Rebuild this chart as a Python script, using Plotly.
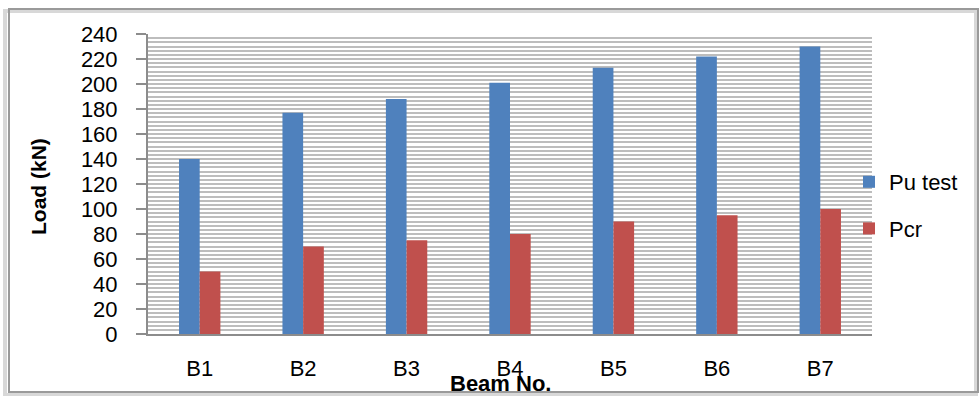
import plotly.graph_objects as go

beams = ["B1", "B2", "B3", "B4", "B5", "B6", "B7"]
pu_test = [140, 177, 188, 201, 213, 222, 230]
pcr = [50, 70, 75, 80, 90, 95, 100]
y_ticks = list(range(0, 241, 20))

FONT = "Liberation Sans, Arial, sans-serif"
BLUE = "#4f81bd"
RED = "#c0504d"

fig = go.Figure()
fig.add_trace(go.Bar(x=beams, y=pu_test, name="Pu test", marker_color=BLUE,
                     marker_line_width=0, legendgroup="a"))
fig.add_trace(go.Bar(x=beams, y=pcr, name="Pcr", marker_color=RED,
                     marker_line_width=0, legendgroup="b"))

W, H = 979, 396
L, R, T, B = 148, 107, 34, 62
pw, ph = W - L - R, H - T - B


def px_x(x):
    return (x - L) / pw


def px_y(y):
    return (H - B - y) / ph


fig.update_layout(
    width=W, height=H,
    margin=dict(l=L, r=R, t=T, b=B),
    paper_bgcolor="white", plot_bgcolor="white",
    barmode="group", bargap=0.6, bargroupgap=0,
    font=dict(family=FONT, size=22, color="black"),
    showlegend=True,
    legend=dict(x=px_x(849), y=px_y(161), xanchor="left", yanchor="top",
                font=dict(size=22), tracegroupgap=15,
                bgcolor="rgba(0,0,0,0)", itemwidth=30),
    xaxis=dict(showgrid=False, showline=True, linecolor="#8c8c8c", linewidth=2,
               ticks="", ticklabelstandoff=14, tickfont=dict(size=22)),
    yaxis=dict(range=[0, 240], tickvals=y_ticks, showline=True,
               linecolor="#8c8c8c", linewidth=2, ticks="outside",
               ticklen=10, tickcolor="#8c8c8c", tickwidth=2,
               ticklabelstandoff=14, tickfont=dict(size=22),
               showgrid=True, gridcolor="#bdbdbd", gridwidth=2,
               zeroline=False,
               minor=dict(dtick=20 / 6, showgrid=True, gridcolor="#bdbdbd",
                          gridwidth=2, ticks="")),
    annotations=[
        dict(text="<b>Beam No.</b>", xref="paper", yref="paper",
             x=px_x(500), y=px_y(383), showarrow=False,
             font=dict(size=22), xanchor="center", yanchor="middle"),
        dict(text="<b>Load (kN)</b>", xref="paper", yref="paper",
             x=px_x(38), y=px_y(187), showarrow=False, textangle=-90,
             font=dict(size=21), xanchor="center", yanchor="middle"),
    ],
    shapes=[
        # soft shadow of the chart frame
        dict(type="rect", xref="paper", yref="paper",
             x0=px_x(5), x1=px_x(976), y0=px_y(395), y1=px_y(11),
             line=dict(color="#d8d8d8", width=4), layer="below"),
        # chart frame
        dict(type="rect", xref="paper", yref="paper",
             x0=px_x(9), x1=px_x(978), y0=px_y(392), y1=px_y(9),
             line=dict(color="#9a9a9a", width=2), layer="below"),
    ],
)

fig.write_html("out.html")
